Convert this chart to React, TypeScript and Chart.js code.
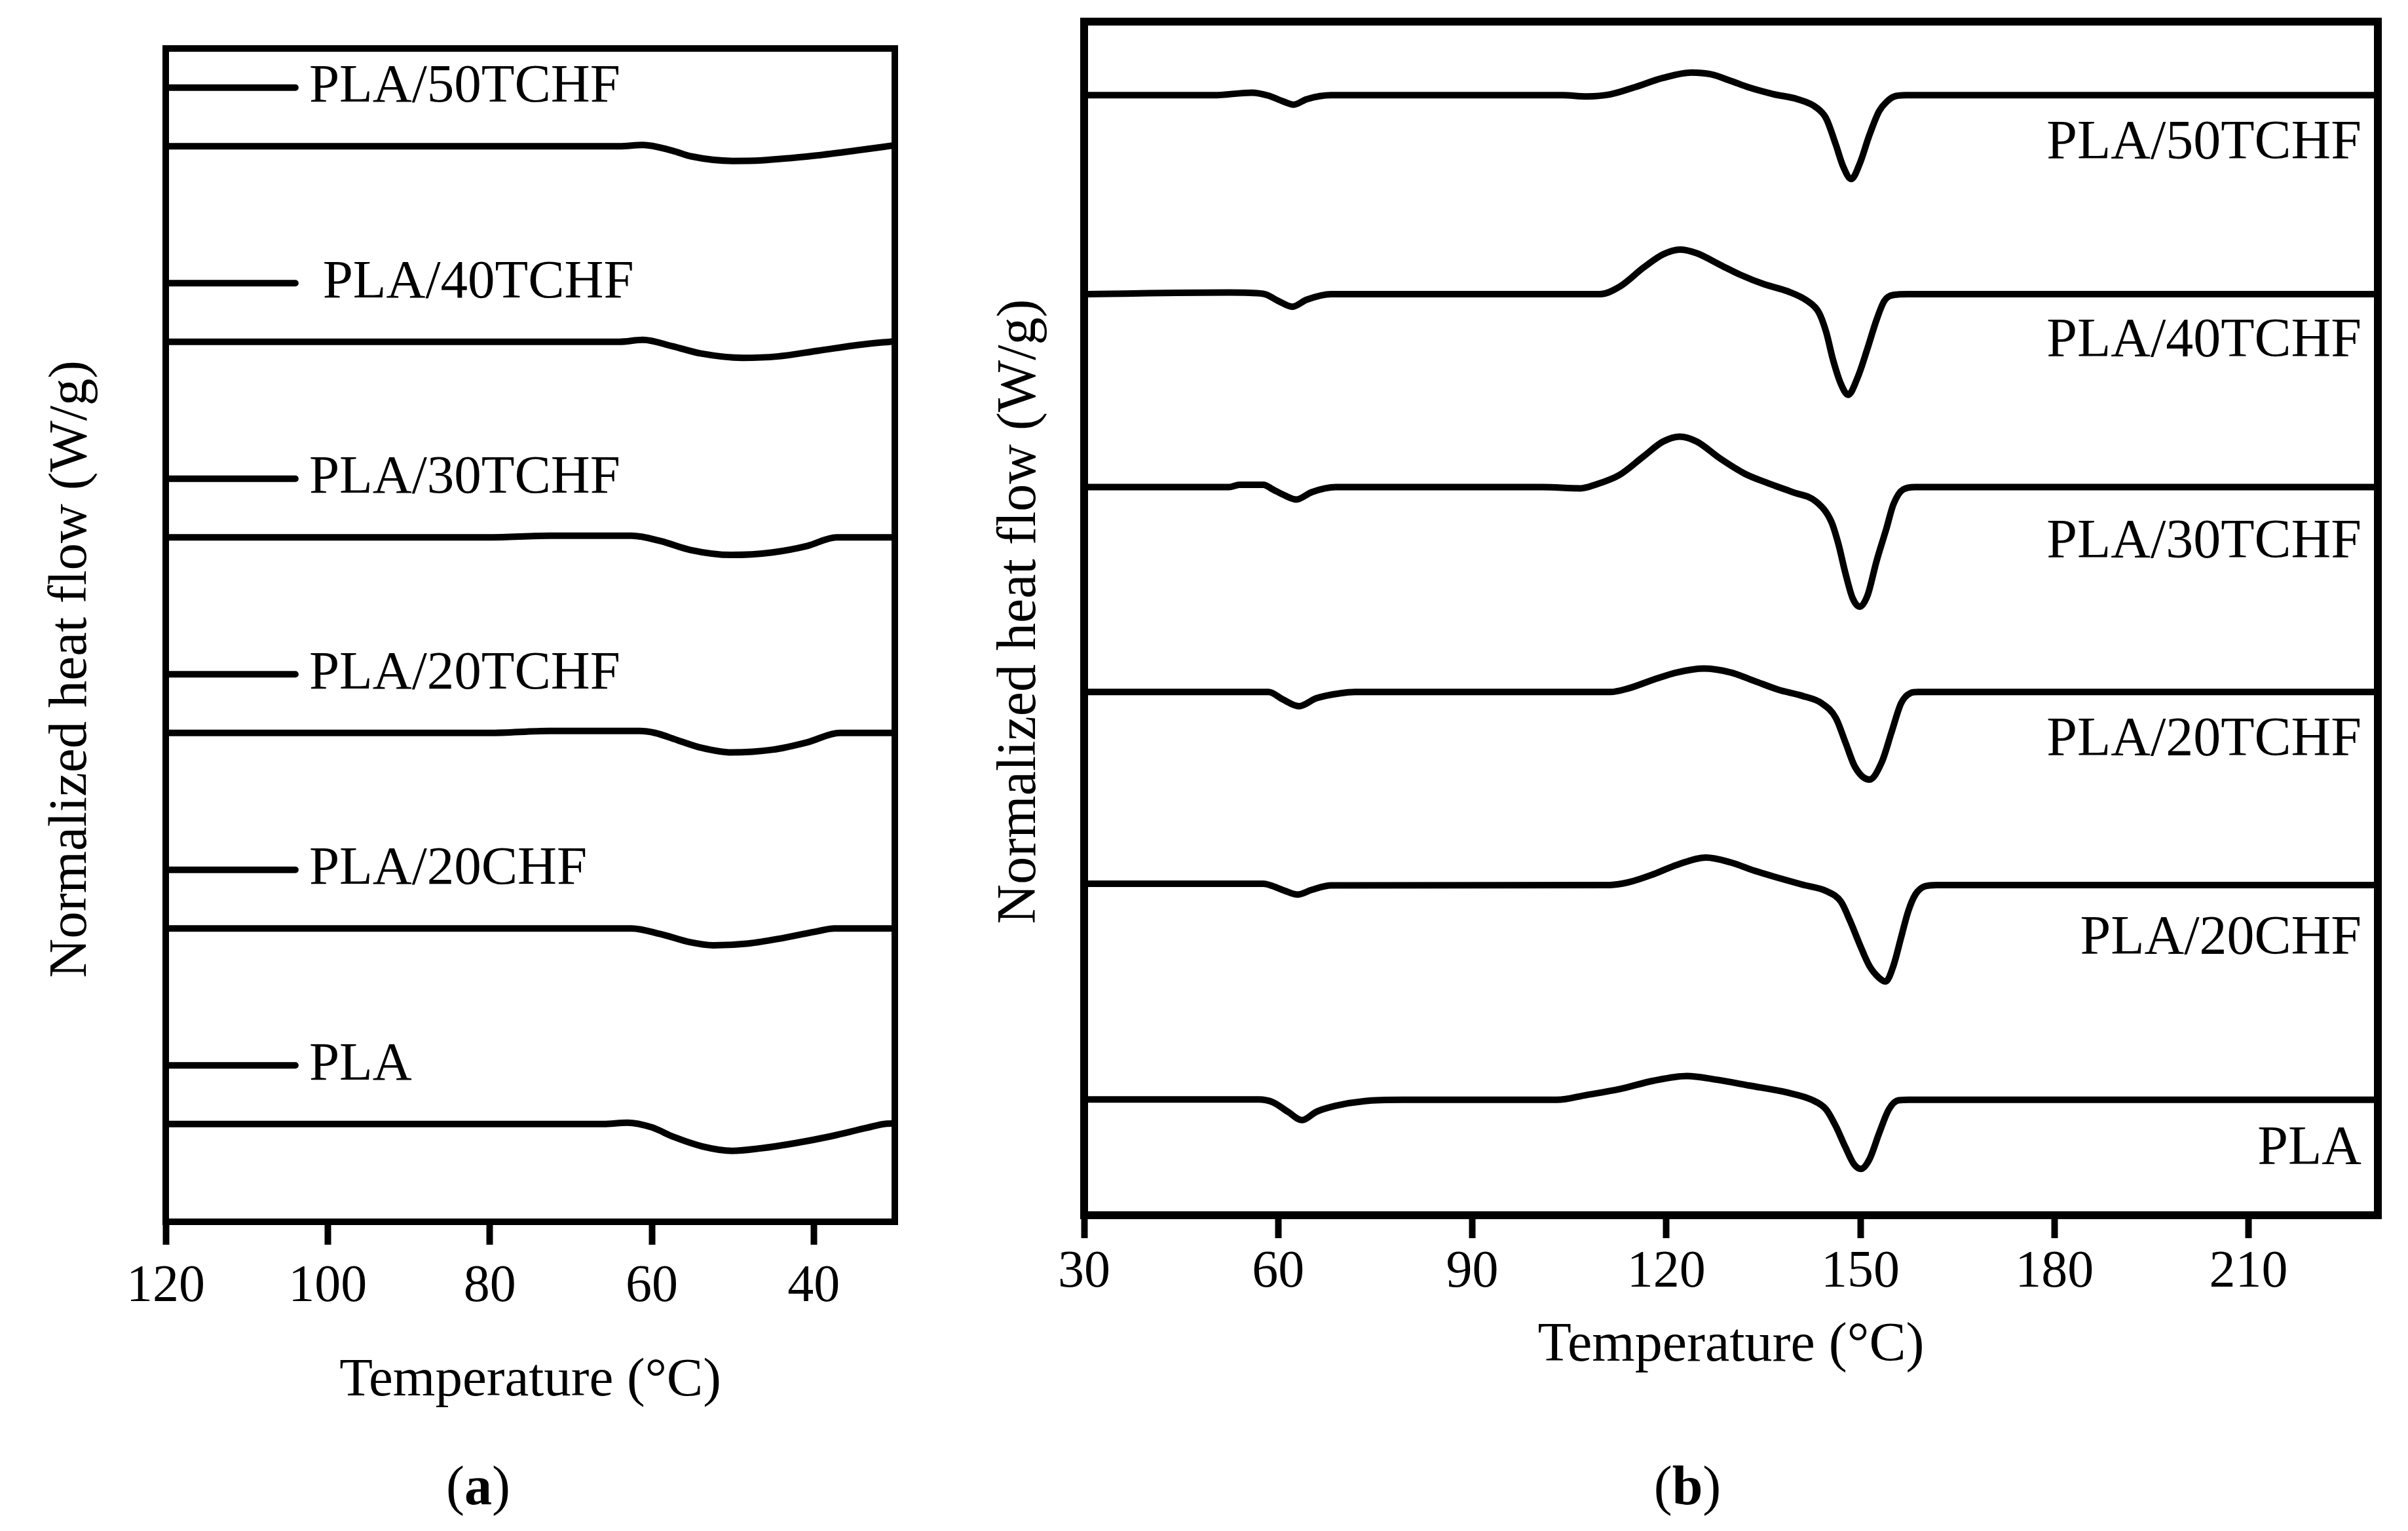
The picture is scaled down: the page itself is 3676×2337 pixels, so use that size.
import React, { useEffect, useRef } from "react";
import { Chart, registerables } from "chart.js";

Chart.register(...registerables);

const FONT = "'Liberation Serif', 'Times New Roman', serif";

// ---------- shared ----------
const seriesNames = ["PLA/50TCHF", "PLA/40TCHF", "PLA/30TCHF", "PLA/20TCHF", "PLA/20CHF", "PLA"];
const labelTextA = ["PLA/50TCHF", " PLA/40TCHF", "PLA/30TCHF", "PLA/20TCHF", "PLA/20CHF", "PLA"];

// ---------- panel (a) ----------
const xTicksA = [120, 100, 80, 60, 40];
const offsetsA = [5.5, 4.5, 3.5, 2.5, 1.5, 0.5];

const tA50 = [120, 100, 80, 64, 61.1, 57.5, 55.1, 50, 46.4, 42.8, 39.2, 34.8, 30];
const hfA50 = [0, 0, 0, 0, 0.007, -0.022, -0.052, -0.075, -0.072, -0.06, -0.045, -0.022, 0.005];
const tA40 = [120, 100, 80, 64, 61.1, 57.5, 53.9, 48.8, 44.5, 39.4, 34.3, 30];
const hfA40 = [0, 0, 0, 0, 0.01, -0.022, -0.06, -0.082, -0.075, -0.045, -0.015, 0.003];
const tA30 = [120, 100, 80, 72.6, 62.5, 58.9, 55.3, 50.2, 45.1, 40.8, 37.2, 30];
const hfA30 = [0, 0, 0, 0.008, 0.008, -0.019, -0.064, -0.09, -0.077, -0.044, 0, 0];
const tA20T = [120, 100, 80, 72.6, 61.5, 59.6, 56.7, 53.8, 50.2, 45.1, 40.8, 36.8, 30];
const hfA20T = [0, 0, 0, 0.01, 0.01, 0, -0.039, -0.077, -0.1, -0.086, -0.048, 0, 0];
const tA20C = [120, 100, 80, 62.5, 58.9, 55.3, 52.4, 48.1, 43.7, 39.4, 37.5, 30];
const hfA20C = [0, 0, 0, 0, -0.029, -0.07, -0.086, -0.077, -0.048, -0.013, 0, 0];
const tAPLA = [120, 100, 80, 66, 63, 60, 57.3, 53.8, 50.1, 46.5, 42.2, 37.8, 33.5, 31, 30];
const hfAPLA = [0, 0, 0, 0, 0.007, -0.017, -0.066, -0.114, -0.137, -0.124, -0.097, -0.062, -0.02, 0.002, 0.003];

// ---------- panel (b) ----------
const xTicksB = [30, 60, 90, 120, 150, 180, 210];
const offsetsB = [5.63, 4.63, 3.66, 2.63, 1.66, 0.58];

const tB50 = [30, 50, 55.9, 58.5, 60.7, 62.4, 64.4, 68.2, 104, 107.6, 111.3, 115, 119.5, 123.9, 126.9, 129.9, 132.8, 136.5, 140.3, 143.2, 144.7, 146.2, 147.3, 148.6, 149.9, 151.4, 152.9, 154, 155.1, 157, 230];
const hfB50 = [0, 0, 0.013, -0.002, -0.03, -0.047, -0.02, 0, 0, -0.006, 0.004, 0.039, 0.087, 0.114, 0.105, 0.073, 0.039, 0.006, -0.02, -0.062, -0.116, -0.248, -0.355, -0.421, -0.344, -0.2, -0.08, -0.035, -0.008, 0, 0];
const tB40 = [30, 52.5, 57.7, 60, 62.2, 64.4, 68.2, 109.8, 112.8, 116.5, 119.5, 122.1, 124.7, 128.4, 131.4, 135.1, 138.8, 141.8, 143.6, 144.7, 145.8, 147, 148.1, 149.6, 151.1, 152.5, 153.7, 155.1, 157.4, 230];
const hfB40 = [0, 0.008, 0.002, -0.034, -0.063, -0.028, 0, 0, 0.038, 0.134, 0.2, 0.224, 0.206, 0.146, 0.098, 0.05, 0.014, -0.034, -0.093, -0.189, -0.333, -0.452, -0.506, -0.417, -0.273, -0.129, -0.034, -0.004, 0, 0];
const tB30 = [30, 52.4, 54, 57.7, 59.2, 61.1, 62.8, 65.2, 68.9, 100.9, 106.8, 109, 112.8, 116.5, 119.5, 122.1, 124.7, 128.4, 132.1, 135.8, 139.5, 143.2, 145.5, 146.6, 147.7, 148.8, 149.9, 151.1, 152.5, 154, 155.1, 156.6, 158.5, 230];
const hfB30 = [0, 0, 0.012, 0.012, -0.012, -0.043, -0.062, -0.025, 0, 0, -0.006, 0.012, 0.062, 0.155, 0.229, 0.254, 0.229, 0.142, 0.068, 0.019, -0.025, -0.074, -0.173, -0.285, -0.434, -0.558, -0.601, -0.545, -0.372, -0.211, -0.087, -0.012, 0, 0];
const tB20T = [30, 58.5, 60.7, 63.2, 65.9, 69.6, 71.9, 111.3, 114.2, 118, 121.7, 125.8, 129.9, 133.6, 137.3, 141, 144, 146.2, 147.7, 149.2, 151.4, 153.3, 154.8, 156.3, 157.7, 158.9, 230];
const hfB20T = [0, 0, -0.037, -0.071, -0.031, -0.006, 0, 0, 0.019, 0.062, 0.099, 0.118, 0.099, 0.056, 0.012, -0.019, -0.056, -0.13, -0.254, -0.378, -0.44, -0.353, -0.204, -0.056, -0.006, 0, 0];
const tB20C = [30, 57.7, 59.2, 61.1, 63, 65.2, 68.2, 111.3, 114.2, 118, 121.7, 126.1, 129.9, 133.6, 137.3, 141, 144.7, 147, 148.4, 149.9, 151.4, 152.9, 153.9, 155.1, 156.3, 157.4, 158.5, 160, 161.8, 230];
const hfB20C = [0.006, 0.006, -0.006, -0.03, -0.048, -0.024, -0.002, 0, 0.014, 0.054, 0.102, 0.138, 0.114, 0.072, 0.036, 0.002, -0.03, -0.084, -0.18, -0.299, -0.407, -0.467, -0.485, -0.407, -0.263, -0.132, -0.048, -0.006, 0, 0];
const tBPLA = [30, 57, 59.2, 61.5, 63.7, 65.9, 68.9, 73.4, 79.3, 103.1, 107.6, 112.8, 118, 123.2, 127.6, 132.8, 138.8, 142.5, 144.7, 146.2, 147.7, 149, 150.1, 151.4, 152.9, 154.4, 155.9, 157.5, 230];
const hfBPLA = [0.002, 0.002, -0.012, -0.06, -0.102, -0.06, -0.03, -0.006, 0, 0, 0.024, 0.054, 0.096, 0.12, 0.102, 0.072, 0.036, 0, -0.048, -0.132, -0.239, -0.323, -0.347, -0.299, -0.168, -0.048, -0.002, 0, 0];

const tempsA = [tA50, tA40, tA30, tA20T, tA20C, tAPLA];
const flowsA = [hfA50, hfA40, hfA30, hfA20T, hfA20C, hfAPLA];
const tempsB = [tB50, tB40, tB30, tB20T, tB20C, tBPLA];
const flowsB = [hfB50, hfB40, hfB30, hfB20T, hfB20C, hfBPLA];

const CANVAS_H = 2337;

function buildDatasets(temps: number[][], flows: number[][], offsets: number[], width: number) {
  return temps.map((t, i) => ({
    label: seriesNames[i],
    data: t.map((x, k) => ({ x, y: flows[i][k] + offsets[i] })),
    borderColor: "#000",
    backgroundColor: "#000",
    borderWidth: width,
    pointRadius: 0,
    pointHoverRadius: 0,
    cubicInterpolationMode: "monotone" as const,
    fill: false,
    borderJoinStyle: "round" as const,
    borderCapStyle: "round" as const,
  }));
}

function makeDecor(cfg: any) {
  return {
    id: "decor" + cfg.caption,
    afterDraw(chart: any) {
      const { ctx, chartArea: ca } = chart;
      const xs = chart.scales.x;
      const ys = chart.scales.y;
      ctx.save();
      // frame
      ctx.strokeStyle = "#000";
      ctx.lineWidth = cfg.frameWidth;
      ctx.lineJoin = "miter";
      ctx.strokeRect(ca.left, ca.top, ca.right - ca.left, ca.bottom - ca.top);
      // series labels
      ctx.fillStyle = "#000";
      ctx.font = `${cfg.labelSize}px ${FONT}`;
      ctx.textBaseline = "middle";
      cfg.labels.forEach((text: string, i: number) => {
        const y = ys.getPixelForValue(cfg.offsets[i] + cfg.labelShift[i]);
        if (cfg.keyLine) {
          ctx.lineWidth = 10;
          ctx.lineCap = "round";
          ctx.beginPath();
          ctx.moveTo(xs.getPixelForValue(cfg.keyLine[0]), y);
          ctx.lineTo(xs.getPixelForValue(cfg.keyLine[1]), y);
          ctx.stroke();
          ctx.textAlign = "left";
          ctx.fillText(text, xs.getPixelForValue(cfg.textAt), y);
        } else {
          ctx.textAlign = "right";
          ctx.fillText(text, ca.right - cfg.rightInset, y);
        }
      });
      // caption "(a)" / "(b)"
      const regular = `${cfg.captionSize}px ${FONT}`;
      const bold = `bold ${cfg.captionSize}px ${FONT}`;
      ctx.textAlign = "left";
      ctx.textBaseline = "alphabetic";
      ctx.font = regular;
      const w1 = ctx.measureText("(").width;
      const w3 = ctx.measureText(")").width;
      ctx.font = bold;
      const w2 = ctx.measureText(cfg.caption).width;
      let x = cfg.captionX - (w1 + w2 + w3) / 2;
      const cy = cfg.captionY;
      ctx.font = regular;
      ctx.fillText("(", x, cy);
      x += w1;
      ctx.font = bold;
      ctx.fillText(cfg.caption, x, cy);
      x += w2;
      ctx.font = regular;
      ctx.fillText(")", x, cy);
      ctx.restore();
    },
  };
}

function configA(): any {
  return {
    type: "line",
    data: { datasets: buildDatasets(tempsA, flowsA, offsetsA, 10) },
    options: {
      animation: false,
      responsive: false,
      devicePixelRatio: 1,
      events: [],
      layout: { padding: { left: 59, top: 74, right: 114, bottom: 178.6 } },
      plugins: { legend: { display: false }, tooltip: { enabled: false } },
      scales: {
        x: {
          type: "linear",
          reverse: true,
          min: 30,
          max: 120,
          afterBuildTicks: (s: any) => {
            s.ticks = xTicksA.map((v) => ({ value: v }));
          },
          afterFit: (s: any) => {
            s.height = 293.4;
          },
          border: { display: false },
          grid: { display: true, drawOnChartArea: false, drawTicks: true, tickLength: 35, tickWidth: 10, tickColor: "#000" },
          ticks: { color: "#000", font: { family: FONT, size: 80 }, padding: 17, maxRotation: 0, minRotation: 0, autoSkip: false },
          title: { display: true, text: "Temperature (°C)", color: "#000", font: { family: FONT, size: 83 }, padding: 0 },
        },
        y: {
          type: "linear",
          min: 0,
          max: 6,
          afterFit: (s: any) => {
            s.width = 194;
          },
          border: { display: false },
          grid: { display: false, drawTicks: false },
          ticks: { display: false },
          title: { display: true, text: "Normalized heat flow (W/g)     ", color: "#000", font: { family: FONT, size: 83 }, padding: 0 },
        },
      },
    },
    plugins: [
      makeDecor({
        caption: "a",
        frameWidth: 10,
        labels: labelTextA,
        offsets: offsetsA,
        labelShift: [0.3, 0.3, 0.3, 0.3, 0.3, 0.3],
        keyLine: [120, 104],
        textAt: 102.3,
        labelSize: 83,
        captionSize: 84,
        captionX: 730,
        captionY: 2296,
      }),
    ],
  };
}

function configB(): any {
  return {
    type: "line",
    data: { datasets: buildDatasets(tempsB, flowsB, offsetsB, 10) },
    options: {
      animation: false,
      responsive: false,
      devicePixelRatio: 1,
      events: [],
      layout: { padding: { left: 28, top: 33, right: 46, bottom: 231.6 } },
      plugins: { legend: { display: false }, tooltip: { enabled: false } },
      scales: {
        x: {
          type: "linear",
          min: 30,
          max: 230,
          afterBuildTicks: (s: any) => {
            s.ticks = xTicksB.map((v) => ({ value: v }));
          },
          afterFit: (s: any) => {
            s.height = 250.4;
          },
          border: { display: false },
          grid: { display: true, drawOnChartArea: false, drawTicks: true, tickLength: 35, tickWidth: 10, tickColor: "#000" },
          ticks: { color: "#000", font: { family: FONT, size: 80 }, padding: 5, maxRotation: 0, minRotation: 0, autoSkip: false },
          title: { display: true, text: "Temperature (°C)", color: "#000", font: { family: FONT, size: 84 }, padding: 0 },
        },
        y: {
          type: "linear",
          min: 0,
          max: 6,
          afterFit: (s: any) => {
            s.width = 147;
          },
          border: { display: false },
          grid: { display: false, drawTicks: false },
          ticks: { display: false },
          title: { display: true, text: " Normalized heat flow (W/g)", color: "#000", font: { family: FONT, size: 84 }, padding: 0 },
        },
      },
    },
    plugins: [
      makeDecor({
        caption: "b",
        frameWidth: 12,
        labels: seriesNames,
        offsets: offsetsB,
        labelShift: [-0.245, -0.24, -0.28, -0.247, -0.273, -0.25],
        rightInset: 25,
        labelSize: 84,
        captionSize: 84,
        captionX: 1096,
        captionY: 2296,
      }),
    ],
  };
}

function Panel({ makeConfig, left, width }: { makeConfig: () => any; left: number; width: number }) {
  const ref = useRef<HTMLCanvasElement>(null);
  useEffect(() => {
    if (!ref.current) return;
    const chart = new Chart(ref.current, makeConfig());
    return () => chart.destroy();
  }, []);
  return (
    <canvas
      ref={ref}
      width={width}
      height={CANVAS_H}
      style={{ position: "absolute", left, top: 0, width, height: CANVAS_H }}
    />
  );
}

export default function App() {
  return (
    <div
      style={{
        position: "absolute",
        left: 0,
        top: 0,
        width: 3676,
        height: CANVAS_H,
        background: "#fff",
        overflow: "hidden",
      }}
    >
      <Panel makeConfig={configA} left={0} width={1480} />
      <Panel makeConfig={configB} left={1480} width={2196} />
    </div>
  );
}
